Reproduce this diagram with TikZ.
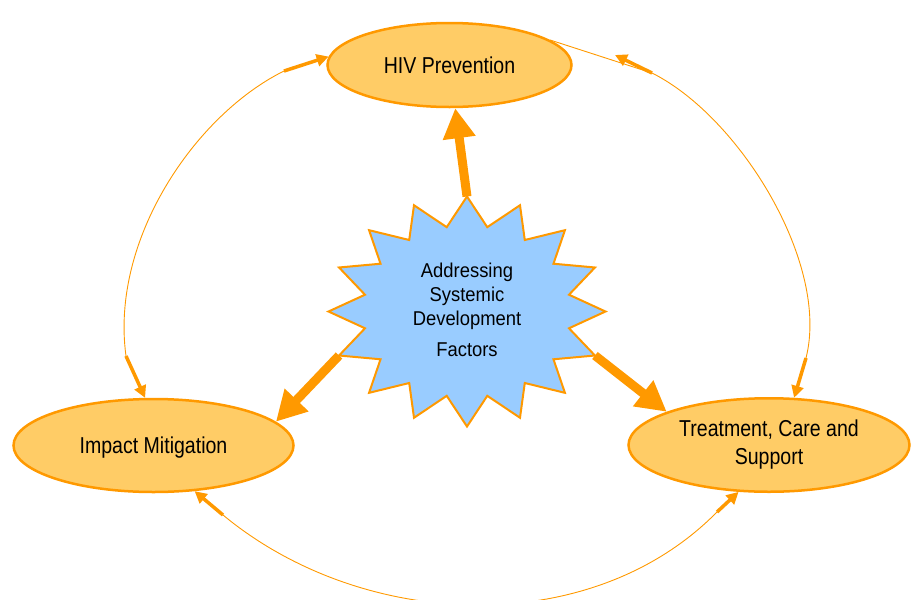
\documentclass[tikz,border=0pt]{standalone}
\usepackage{fontspec}
\setmainfont{Liberation Sans}[FakeStretch=0.85]
\newfontfamily\starfont{Liberation Sans}[FakeStretch=0.92]
\usetikzlibrary{arrows.meta,shapes.geometric}

\definecolor{hivorange}{HTML}{FF9900}
\definecolor{hivfill}{HTML}{FFCC66}
\definecolor{hivblue}{HTML}{99CCFF}

\begin{document}
\begin{tikzpicture}[
    x=1pt, y=-1pt,
    % Style for the three orange programme areas
    programme/.style 2 args={ellipse, draw=hivorange, fill=hivfill, line width=2.5pt,
        inner sep=0pt, minimum width=#1, minimum height=#2, align=center,
        font=\fontsize{23}{28}\selectfont},
    % Style for the blue burst in the middle
    burst/.style={draw=hivorange, fill=hivblue, line width=2pt, line join=miter},
    starlabel/.style={inner sep=0pt, align=center, font=\starfont\fontsize{20}{24}\selectfont},
    % Thick arrows out of the burst
    push/.style={hivorange, line width=9pt, -{Triangle[length=30pt,width=31pt]}},
    % Thin cycle links and their short heavy arrow ends
    link/.style={hivorange, line width=0.9pt},
    stub/.style={hivorange, line width=3.5pt, -{Triangle[length=12pt,width=12pt]}}
]

    \useasboundingbox (0,0) rectangle (911,600);
    \clip (0,0) rectangle (911,600);

    % --- 1. Programme areas ---
    \node[programme={244pt}{84pt}] (hiv) at (449.5,65) {HIV Prevention};
    \node[programme={280pt}{93pt}, text depth=0pt] (impact) at (153.5,445.5) {Impact Mitigation};
    \node[programme={281pt}{93.5pt}] (care) at (769,445) {Treatment, Care and\\Support};

    % --- 2. The burst ---
    \begin{scope}[shift={(467,311.5)}]
        \draw[burst] (0:138.5 and 115)
            \foreach \a in {22.5,45,...,337.5} {-- ({\a-11.25}:104 and 86) -- (\a:138.5 and 115)}
            -- (348.75:104 and 86) -- cycle;
        \coordinate (sTop) at (270:138.5 and 115);
        \coordinate (sLeft) at (157.5:138.5 and 115);
        \coordinate (sRight) at (22.5:138.5 and 115);
    \end{scope}
    \node[starlabel] (factors) at (467,310) {Addressing\\Systemic\\Development\\[7pt]Factors};

    % --- 3. Thick arrows ---
    \draw[push] (sTop) -- (hiv);
    \draw[push] (sLeft) -- (impact.11);
    \draw[push] (sRight) -- (care.162);

    % --- 4. Thin cycle round the outside ---
    \coordinate (lt) at (284,71);
    \coordinate (lb) at (126,356);
    \coordinate (rt) at (652,73);
    \coordinate (rtip) at (615,55);
    \coordinate (rb) at (806,358);
    \coordinate (bl) at (223,515);
    \coordinate (br) at (717,512);

    \draw[link] (lt) .. controls (195,115) and (110,240) .. (lb);
    \draw[link] (hiv.14) -- (rt) .. controls (740,117) and (830,264) .. (rb);
    \draw[link] (bl) .. controls (363,631) and (591,640) .. (br);

    \draw[stub] (lt) -- (hiv.176);
    \draw[stub] (lb) -- (impact.100);
    \draw[stub] (rt) -- (rtip);
    \draw[stub] (rb) -- (care.62);
    \draw[stub] (bl) -- (impact.-48);
    \draw[stub] (br) -- (care.237);

\end{tikzpicture}
\end{document}
